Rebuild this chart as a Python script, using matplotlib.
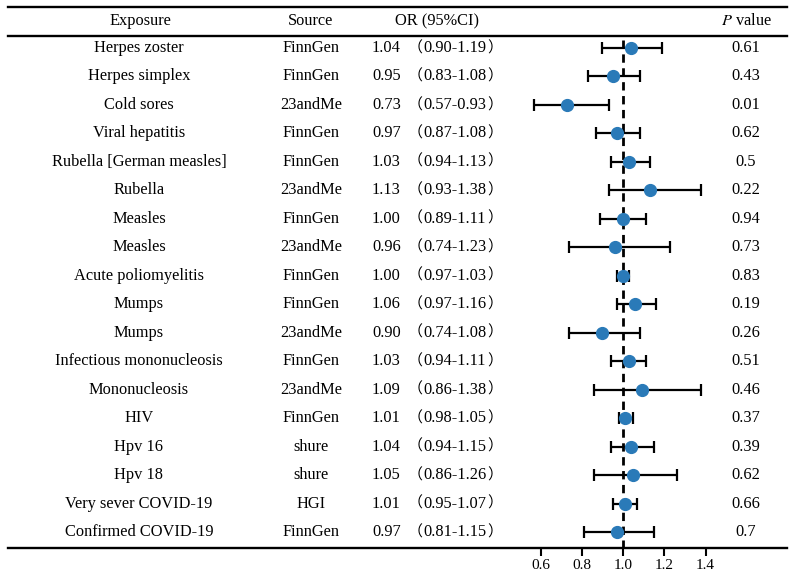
import matplotlib
matplotlib.use("Agg")
import matplotlib.pyplot as plt
from matplotlib.lines import Line2D

plt.rcParams["font.family"] = ["Liberation Serif", "Noto Sans CJK SC"]
plt.rcParams["mathtext.fontset"] = "stix"

exposures = [
    "Herpes zoster", "Herpes simplex", "Cold sores", "Viral hepatitis",
    "Rubella [German measles]", "Rubella", "Measles", "Measles",
    "Acute poliomyelitis", "Mumps", "Mumps", "Infectious mononucleosis",
    "Mononucleosis", "HIV", "Hpv 16", "Hpv 18", "Very sever COVID-19",
    "Confirmed COVID-19",
]
sources = [
    "FinnGen", "FinnGen", "23andMe", "FinnGen", "FinnGen", "23andMe",
    "FinnGen", "23andMe", "FinnGen", "FinnGen", "23andMe", "FinnGen",
    "23andMe", "FinnGen", "shure", "shure", "HGI", "FinnGen",
]
odds = [1.04, 0.95, 0.73, 0.97, 1.03, 1.13, 1.00, 0.96, 1.00,
        1.06, 0.90, 1.03, 1.09, 1.01, 1.04, 1.05, 1.01, 0.97]
ci_low = [0.90, 0.83, 0.57, 0.87, 0.94, 0.93, 0.89, 0.74, 0.97,
          0.97, 0.74, 0.94, 0.86, 0.98, 0.94, 0.86, 0.95, 0.81]
ci_high = [1.19, 1.08, 0.93, 1.08, 1.13, 1.38, 1.11, 1.23, 1.03,
           1.16, 1.08, 1.11, 1.38, 1.05, 1.15, 1.26, 1.07, 1.15]
p_values = ["0.61", "0.43", "0.01", "0.62", "0.5", "0.22", "0.94", "0.73",
            "0.83", "0.19", "0.26", "0.51", "0.46", "0.37", "0.39", "0.62",
            "0.66", "0.7"]
xticks = [0.6, 0.8, 1.0, 1.2, 1.4]

W, H = 793, 578
ROW0, ROWH = 48, 28.47          # pixel centre of first row, row spacing
TOP_PX, BOT_PX = 36, 548        # header rule / bottom rule


def fx(px):
    return px / W


def fy(py):
    return 1 - py / H


def row(py):
    return (py - ROW0) / ROWH


fig = plt.figure(figsize=(W / 100, H / 100), dpi=100)
ylim = (row(BOT_PX), row(TOP_PX))

# --- table text axes (x in pixels, y in rows) ---
tab = fig.add_axes([0, fy(BOT_PX), 1, (BOT_PX - TOP_PX) / H])
tab.set_xlim(0, W)
tab.set_ylim(*ylim)
tab.axis("off")

fs = 11.8
cjk = ["Noto Sans CJK SC"]
hy = row(21)
tab.text(140, hy, "Exposure", ha="center", va="center", fontsize=fs)
tab.text(311, hy, "Source", ha="center", va="center", fontsize=fs)
tab.text(437, hy, "OR (95%CI)", ha="center", va="center", fontsize=fs)
tab.text(746, hy, r"$\it{P}$ value", ha="center", va="center", fontsize=fs)

for i in range(len(exposures)):
    tab.text(139, i, exposures[i], ha="center", va="center", fontsize=fs)
    tab.text(311, i, sources[i], ha="center", va="center", fontsize=fs)
    tab.text(372, i, f"{odds[i]:.2f}", ha="left", va="center", fontsize=fs)
    tab.text(423, i, "（", ha="right", va="center", fontsize=fs - 1,
             family=cjk)
    tab.text(455, i, f"{ci_low[i]:.2f}-{ci_high[i]:.2f}",
             ha="center", va="center", fontsize=fs)
    tab.text(487, i, "）", ha="left", va="center", fontsize=fs - 1,
             family=cjk)
    tab.text(746, i, p_values[i], ha="center", va="center", fontsize=fs)

# --- forest plot axes ---
L_PX, R_PX, ONE_PX, SCALE = 480, 787, 623, 206.25
ax = fig.add_axes([fx(L_PX), fy(BOT_PX), (R_PX - L_PX) / W,
                   (BOT_PX - TOP_PX) / H])
ax.set_xlim(1 - (ONE_PX - L_PX) / SCALE, 1 + (R_PX - ONE_PX) / SCALE)
ax.set_ylim(*ylim)
ax.patch.set_alpha(0)
for s in ax.spines.values():
    s.set_visible(False)

ax.vlines(1.0, row(40), ylim[0], colors="black", linestyles=(0, (3, 2)),
          linewidth=2, zorder=1)
ys = list(range(len(exposures)))
xerr = [[o - l for o, l in zip(odds, ci_low)],
        [h - o for o, h in zip(odds, ci_high)]]
ax.errorbar(odds, ys, xerr=xerr, fmt="none", ecolor="black",
            elinewidth=1.6, capsize=4, capthick=1.6, zorder=2)
ax.plot(odds, ys, "o", color="#2a7ab8", markersize=8.5, zorder=3)

ax.set_yticks([])
ax.set_xticks(xticks)
ax.set_xticklabels([f"{t:.1f}" for t in xticks], fontsize=11)
ax.tick_params(axis="x", direction="out", length=6, width=1.5, pad=2)

# --- table rules ---
for py in (7, TOP_PX, BOT_PX):
    fig.add_artist(Line2D([fx(8), fx(787)], [fy(py), fy(py)],
                          color="black", linewidth=1.7))

fig.savefig("out.png", dpi=100)
